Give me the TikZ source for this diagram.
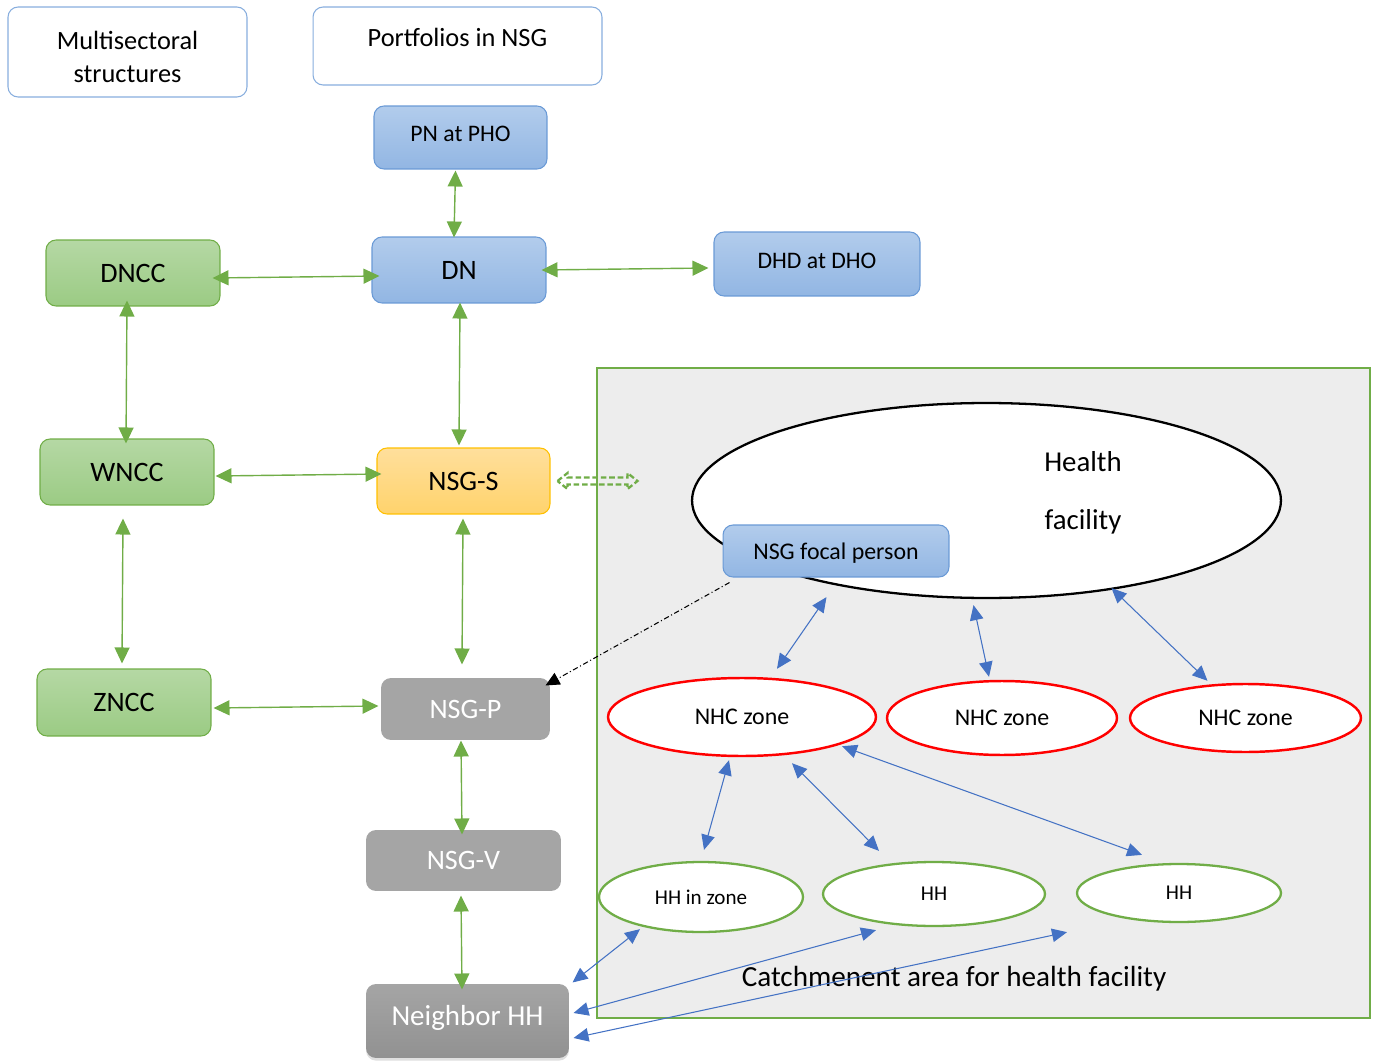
\documentclass[tikz,border=0pt]{standalone}
\usepackage{fontspec}
\setmainfont{Carlito}
\usetikzlibrary{arrows.meta,shapes.geometric,calc,shadows}

\definecolor{gborder}{HTML}{70AD47}
\definecolor{gtop}{HTML}{B5D8A4}
\definecolor{gbot}{HTML}{9BCB84}
\definecolor{bborder}{HTML}{6A9AD6}
\definecolor{btop}{HTML}{B2CCEC}
\definecolor{bbot}{HTML}{92B6E3}
\definecolor{oborder}{HTML}{FFC000}
\definecolor{otop}{HTML}{FFDF9C}
\definecolor{obot}{HTML}{FFD36C}
\definecolor{greybox}{HTML}{A5A5A5}
\definecolor{areafill}{HTML}{EDEDED}
\definecolor{linkblue}{HTML}{4472C4}
\definecolor{zonered}{HTML}{FF0000}

\tikzset{
  box/.style={rounded corners=0.2cm, inner sep=0pt, align=center, line width=0.6pt},
  outlinebox/.style={box, draw=bborder!80, fill=white},
  bluebox/.style={box, draw=bborder, top color=btop, bottom color=bbot},
  greenbox/.style={box, draw=gborder, top color=gtop, bottom color=gbot},
  orangebox/.style={box, draw=oborder, top color=otop, bottom color=obot},
  greybx/.style={box, fill=greybox, text=white},
  fs/.style={font=\fontsize{#1}{#1pt}\selectfont},
  zone/.style={ellipse, draw=zonered, line width=1.4pt, fill=white, inner sep=0pt},
  house/.style={ellipse, draw=gborder, line width=1.3pt, fill=white, inner sep=0pt},
  garrow/.style={draw=gborder, line width=0.8pt,
    {Triangle[length=0.32cm,width=0.3cm]}-{Triangle[length=0.32cm,width=0.3cm]}},
  barrow/.style={draw=linkblue, line width=0.6pt,
    {Triangle[length=0.3cm,width=0.27cm]}-{Triangle[length=0.3cm,width=0.27cm]}},
}

\begin{document}
\begin{tikzpicture}[x=0.02cm, y=-0.02cm]
\useasboundingbox (0,0) rectangle (1377,1061);

% header boxes
\node[outlinebox, minimum width=4.78cm, minimum height=1.8cm,
      font=\fontsize{15}{19.3}\selectfont] (multi) at (127.5,52)
      {\rule{0pt}{16pt}Multisectoral\\structures};
\node[outlinebox, minimum width=5.78cm, minimum height=1.56cm, fs=15,
      text height=12pt, text depth=11pt] (portf) at (457.5,46) {Portfolios in NSG};

% catchment area of the health facility
\node[draw=gborder, fill=areafill, line width=1.4pt, inner sep=0pt,
      minimum width=15.46cm, minimum height=13cm] (area) at (983.5,693) {};
\node[ellipse, draw=black, line width=1.3pt, fill=white, inner sep=0pt,
      minimum width=11.78cm, minimum height=3.9cm] (hf) at (986.5,500.5) {};
\node[fs=16.4] (hftop) at (1083,462) {Health};
\node[fs=16.4] (hfbot) at (1083,522) {facility};
\node[bluebox, minimum width=4.52cm, minimum height=1.04cm, fs=13.6,
      text height=11pt, text depth=1pt] (focal) at (836,551) {NSG focal person};

\node[zone, minimum width=5.36cm, minimum height=1.56cm, fs=13.6] (nhc1) at (742,717) {NHC zone};
\node[zone, minimum width=4.6cm, minimum height=1.48cm, fs=13.6] (nhc2) at (1002,718) {NHC zone};
\node[zone, minimum width=4.62cm, minimum height=1.36cm, fs=13.6] (nhc3) at (1245.5,718) {NHC zone};

\node[house, minimum width=4.08cm, minimum height=1.4cm, fs=12] (hh1) at (701,897) {HH in zone};
\node[house, minimum width=4.44cm, minimum height=1.28cm, fs=12] (hh2) at (934,894) {HH};
\node[house, minimum width=4.08cm, minimum height=1.16cm, fs=12] (hh3) at (1179,893) {HH};

\node[fs=16.6] (catch) at (954,979) {Catchmenent area for health facility};

% NSG portfolio chain
\node[bluebox, minimum width=3.46cm, minimum height=1.26cm, fs=13.5,
      text depth=4pt] (pn) at (460.5,137.5) {PN at PHO};
\node[bluebox, minimum width=3.48cm, minimum height=1.32cm, fs=16] (dn) at (459,270) {DN};
\node[bluebox, minimum width=4.12cm, minimum height=1.28cm, fs=13.5,
      text depth=3.5pt] (dhd) at (817,264) {DHD at DHO};
\node[orangebox, minimum width=3.46cm, minimum height=1.32cm, fs=16] (nsgs) at (463.5,481) {NSG-S};
\node[greybx, minimum width=3.38cm, minimum height=1.24cm, fs=16] (nsgp) at (465.5,709) {NSG-P};
\node[greybx, minimum width=3.9cm, minimum height=1.22cm, fs=16] (nsgv) at (463.5,860.5) {NSG-V};
\node[box, top color=greybox, bottom color=greybox!88!black, text=white,
      drop shadow={opacity=0.25, shadow xshift=0pt, shadow yshift=-1.5pt},
      minimum width=4.06cm, minimum height=1.48cm, fs=16.5,
      text depth=6pt] (nbr) at (467.5,1021) {Neighbor HH};

% multisectoral chain
\node[greenbox, minimum width=3.48cm, minimum height=1.32cm, fs=16] (dncc) at (133,273) {DNCC};
\node[greenbox, minimum width=3.48cm, minimum height=1.32cm, fs=16] (wncc) at (127,472) {WNCC};
\node[greenbox, minimum width=3.48cm, minimum height=1.34cm, fs=16] (zncc) at (124,702.5) {ZNCC};

% green links
\draw[garrow] ($(pn.south)+(-5,1)$) -- ($(dn.north)+(-5,1)$);
\draw[garrow] ($(dncc.east)+(-8,5)$) -- ($(dn.west)+(8,6)$);
\draw[garrow] ($(dn.east)+(-5,0)$) -- ($(dhd.west)+(-5,4)$);
\draw[garrow] ($(dn.south)+(1,-1)$) -- ($(nsgs.north)+(-4.5,-2)$);
\draw[garrow] ($(dncc.south)+(-6,-6)$) -- ($(wncc.north)+(-1,5)$);
\draw[garrow] ($(wncc.east)+(1,4)$) -- ($(nsgs.west)+(5,-7)$);
\draw[garrow] ($(wncc.south)+(-4,13)$) -- ($(zncc.north)+(-2,-5)$);
\draw[garrow] ($(nsgs.south)+(-0.5,4)$) -- ($(nsgp.north)+(-3.5,-13)$);
\draw[garrow] ($(zncc.east)+(2,5.5)$) -- ($(nsgp.west)+(-2,-3)$);
\draw[garrow] ($(nsgp.south)+(-4.5,0)$) -- ($(nsgv.north)+(-1.5,5)$);
\draw[garrow] ($(nsgv.south)+(-2.5,4)$) -- ($(nbr.north)+(-5.5,6)$);

% hollow dashed two-way arrow from NSG-S to the catchment area
\begin{scope}[shift={($(nsgs.east)+(7,0)$)}]
  \draw[gborder, line width=1.3pt, dash pattern=on 3.2pt off 1.6pt, line join=miter]
    (0,0) -- (10,-8) -- (10,-3.5) -- (70,-3.5) -- (70,-8) -- (80,0)
    -- (70,8) -- (70,3.5) -- (10,3.5) -- (10,8) -- cycle;
\end{scope}

% blue links inside the catchment area
\draw[barrow] ($(hf.south)+(-160,-2)$) -- ($(nhc1.north)+(35,-8)$);
\draw[barrow] ($(hf.south)+(-13,6)$) -- ($(nhc2.north)+(-13,-3)$);
\draw[barrow] ($(hf.south)+(125,-11)$) -- ($(nhc3.north)+(-38,-2)$);
\draw[barrow] ($(nhc1.south)+(-13,3)$) -- ($(hh1.north)+(3,-11)$);
\draw[barrow] ($(nhc1.south)+(50,6)$) -- ($(hh2.north)+(-55,-10)$);
\draw[barrow] ($(nhc1.south)+(100,-11)$) -- ($(hh3.north)+(-37,-8)$);
\draw[barrow] ($(hh1.south)+(-61,-4)$) -- ($(nbr.north east)+(3,-1)$);
\draw[barrow] ($(hh2.south)+(-58,3)$) -- ($(nbr.east)+(4,-8)$);
\draw[barrow] ($(hh3.south)+(-112,9)$) -- ($(nbr.east)+(4,17)$);

% focal person reports to NSG-P
\draw[black, line width=0.6pt, dash pattern=on 3pt off 1.5pt on 0.6pt off 1.5pt,
      -{Triangle[length=0.28cm,width=0.26cm]}]
  ($(focal.south west)+(7,5)$) -- ($(nsgp.north east)+(-5,8)$);
\end{tikzpicture}
\end{document}
